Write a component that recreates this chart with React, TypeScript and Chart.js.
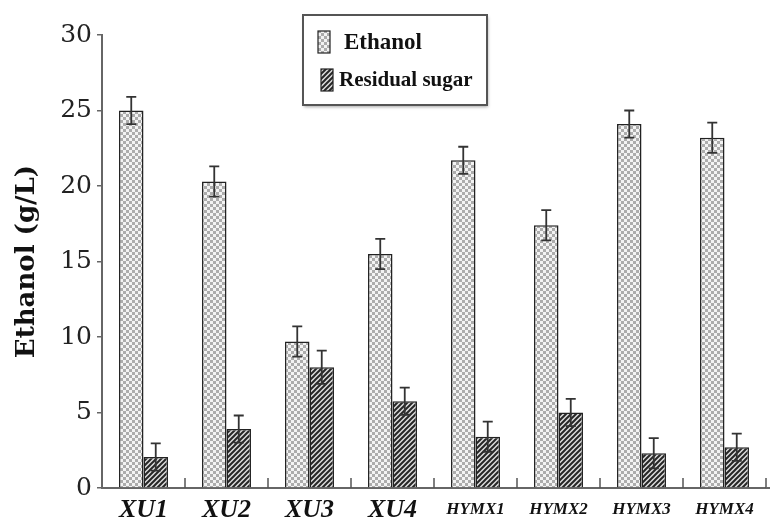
import React, { useEffect, useRef } from "react";
import { Chart, registerables } from "chart.js";

Chart.register(...registerables);

const categories = ["XU1", "XU2", "XU3", "XU4", "HYMX1", "HYMX2", "HYMX3", "HYMX4"];
const ethanol = [25.0, 20.3, 9.7, 15.5, 21.7, 17.4, 24.1, 23.2];
const ethanolErr = [0.9, 1.0, 1.0, 1.0, 0.9, 1.0, 0.9, 1.0];
const residual = [2.05, 3.9, 8.0, 5.75, 3.4, 5.0, 2.3, 2.7];
const residualErr = [0.9, 0.9, 1.1, 0.9, 1.0, 0.9, 1.0, 0.9];
const seriesLabels = ["Ethanol", "Residual sugar"];
const yTickValues = [0, 5, 10, 15, 20, 25, 30];
const yTitle = "Ethanol (g/L)";

function dotPattern(ctx: CanvasRenderingContext2D): CanvasPattern {
  const c = document.createElement("canvas");
  c.width = 6;
  c.height = 6;
  const g = c.getContext("2d")!;
  g.fillStyle = "#f3f3f3";
  g.fillRect(0, 0, 6, 6);
  g.fillStyle = "#acacac";
  g.fillRect(0, 0, 3, 3);
  g.fillRect(3, 3, 3, 3);
  return ctx.createPattern(c, "repeat")!;
}

function hatchPattern(ctx: CanvasRenderingContext2D): CanvasPattern {
  const s = 5;
  const c = document.createElement("canvas");
  c.width = s;
  c.height = s;
  const g = c.getContext("2d")!;
  g.fillStyle = "#dcdcdc";
  g.fillRect(0, 0, s, s);
  g.strokeStyle = "#262626";
  g.lineWidth = 2;
  g.beginPath();
  g.moveTo(-1, s + 1);
  g.lineTo(s + 1, -1);
  g.moveTo(-s / 2 - 1, s / 2 + 1);
  g.lineTo(s / 2 + 1, -s / 2 - 1);
  g.moveTo(s / 2 - 1, s * 1.5 + 1);
  g.lineTo(s * 1.5 + 1, s / 2 - 1);
  g.stroke();
  return ctx.createPattern(c, "repeat")!;
}

const extrasPlugin = {
  id: "extras",
  afterDatasetsDraw(chart: any) {
    const ctx: CanvasRenderingContext2D = chart.ctx;
    const y = chart.scales.y;
    const x = chart.scales.x;
    const area = chart.chartArea;
    // error bars
    chart.data.datasets.forEach((ds: any, di: number) => {
      const meta = chart.getDatasetMeta(di);
      const errs: number[] = ds.errors || [];
      meta.data.forEach((bar: any, i: number) => {
        const v = ds.data[i];
        const e = errs[i] || 0;
        const top = y.getPixelForValue(v + e);
        const bot = y.getPixelForValue(v - e);
        const cx = bar.x;
        ctx.save();
        ctx.strokeStyle = "#333";
        ctx.lineWidth = 1.8;
        ctx.beginPath();
        ctx.moveTo(cx, top);
        ctx.lineTo(cx, bot);
        ctx.moveTo(cx - 5, top);
        ctx.lineTo(cx + 5, top);
        ctx.moveTo(cx - 5, bot);
        ctx.lineTo(cx + 5, bot);
        ctx.stroke();
        ctx.restore();
      });
    });
    // category boundary ticks pointing up
    ctx.save();
    ctx.strokeStyle = "#555";
    ctx.lineWidth = 1.5;
    const n = categories.length;
    for (let i = 0; i < n; i++) {
      const a = x.getPixelForValue(i);
      const b = i < n - 1 ? x.getPixelForValue(i + 1) : a + (a - x.getPixelForValue(i - 1));
      const bx = (a + b) / 2;
      ctx.beginPath();
      ctx.moveTo(bx, area.bottom);
      ctx.lineTo(bx, area.bottom - 10);
      ctx.stroke();
    }
    ctx.lineWidth = 2;
    ctx.strokeStyle = "#666";
    ctx.beginPath();
    ctx.moveTo(area.right, area.bottom);
    ctx.lineTo(chart.width, area.bottom);
    ctx.stroke();
    ctx.restore();
  },
  afterDraw(chart: any) {
    const ctx: CanvasRenderingContext2D = chart.ctx;
    const area = chart.chartArea;
    // y title
    ctx.save();
    ctx.translate(27, (area.top + area.bottom) / 2);
    ctx.rotate(-Math.PI / 2);
    ctx.font = "bold 26px 'DejaVu Serif'";
    ctx.fillStyle = "#111";
    ctx.textAlign = "center";
    ctx.textBaseline = "middle";
    ctx.fillText(yTitle, 0, 0);
    ctx.restore();
    // legend box
    ctx.save();
    ctx.shadowColor = "rgba(0,0,0,0.35)";
    ctx.shadowBlur = 3;
    ctx.shadowOffsetX = 1;
    ctx.shadowOffsetY = 2;
    ctx.fillStyle = "#fff";
    ctx.fillRect(303, 15, 184, 90);
    ctx.restore();
    ctx.save();
    ctx.strokeStyle = "#555";
    ctx.lineWidth = 2;
    ctx.strokeRect(303, 15, 184, 90);
    const rows = [
      { y: 42, sx: 318, font: "bold 23px 'Liberation Serif'", tx: 344 },
      { y: 80, sx: 321, font: "bold 21px 'Liberation Serif'", tx: 339 },
    ];
    chart.data.datasets.forEach((ds: any, i: number) => {
      const r = rows[i];
      ctx.fillStyle = ds.backgroundColor;
      ctx.fillRect(r.sx, r.y - 11, 12, 22);
      ctx.strokeStyle = "#222";
      ctx.lineWidth = 1.2;
      ctx.strokeRect(r.sx, r.y - 11, 12, 22);
      ctx.fillStyle = "#111";
      ctx.font = r.font;
      ctx.textAlign = "left";
      ctx.textBaseline = "middle";
      ctx.fillText(ds.label, r.tx, r.y + 1);
    });
    ctx.restore();
  },
};

export default function App() {
  const ref = useRef<HTMLCanvasElement | null>(null);
  useEffect(() => {
    const canvas = ref.current!;
    const ctx = canvas.getContext("2d")!;
    const chart = new Chart(canvas, {
      type: "bar",
      data: {
        labels: categories,
        datasets: [
          {
            label: seriesLabels[0],
            data: ethanol,
            errors: ethanolErr,
            backgroundColor: dotPattern(ctx),
            borderColor: "#222",
            borderWidth: 1.5,
            categoryPercentage: 0.59,
            barPercentage: 1.0,
          } as any,
          {
            label: seriesLabels[1],
            data: residual,
            errors: residualErr,
            backgroundColor: hatchPattern(ctx),
            borderColor: "#222",
            borderWidth: 1.5,
            categoryPercentage: 0.59,
            barPercentage: 1.0,
          } as any,
        ],
      },
      options: {
        responsive: false,
        animation: false,
        devicePixelRatio: 1,
        layout: { padding: { top: 35, right: 4, left: 0, bottom: 0 } },
        plugins: {
          legend: { display: false },
          tooltip: { enabled: false },
          title: { display: false },
        },
        scales: {
          x: {
            grid: { display: false, drawTicks: false },
            border: { display: true, color: "#666", width: 2 },
            ticks: {
              padding: 10,
              color: "#111",
              font: (c: any) =>
                c.index < 4
                  ? { family: "'Liberation Serif'", size: 26, weight: "bold", style: "italic", lineHeight: "24px" }
                  : { family: "'Liberation Serif'", size: 17, weight: "bold", style: "italic", lineHeight: "24px" },
            },
            afterFit: (s: any) => {
              s.height = 35;
            },
          },
          y: {
            min: 0,
            max: 30,
            afterBuildTicks: (s: any) => {
              s.ticks = yTickValues.map((v) => ({ value: v }));
            },
            grid: {
              display: true,
              drawOnChartArea: false,
              drawTicks: true,
              tickLength: 5,
              color: "#666",
              lineWidth: 1.5,
            },
            border: { display: true, color: "#666", width: 2 },
            ticks: {
              padding: 5,
              color: "#222",
              font: { family: "'DejaVu Serif'", size: 25 },
            },
            afterFit: (s: any) => {
              s.width = 102;
            },
          },
        },
      } as any,
      plugins: [extrasPlugin],
    });
    return () => chart.destroy();
  }, []);
  return (
    <div style={{ position: "fixed", left: 0, top: 0, width: 770, height: 523, background: "#fff" }}>
      <canvas ref={ref} width={770} height={523} style={{ width: 770, height: 523 }} />
    </div>
  );
}
